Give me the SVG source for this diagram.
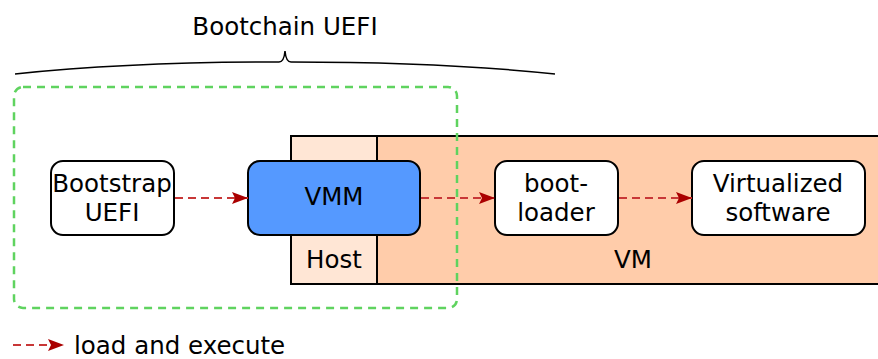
<svg xmlns="http://www.w3.org/2000/svg" width="878" height="359" viewBox="0 0 878 359">
  <defs>
    <marker id="arrow" markerWidth="17" markerHeight="13" refX="16" refY="6.5" orient="auto" markerUnits="userSpaceOnUse">
      <path d="M0,0.5 L16,6.5 L0,12.5 L3,6.5 Z" fill="#aa0000"/>
    </marker>
    <style>
      text { font-family: "DejaVu Sans", "Liberation Sans", sans-serif; font-size: 24.5px; fill: #000; text-anchor: middle; }
      .node { fill: #fff; stroke: #000; stroke-width: 2; }
      .flow { fill: none; stroke: #c83737; stroke-width: 2; stroke-dasharray: 8,5; }
    </style>
  </defs>

  <!-- title and brace -->
  <g id="title">
    <text x="285" y="35">Bootchain UEFI</text>
    <path d="M15,74 C110,64 200,62 279,62 Q284,62 285,51 Q286,62 291,62 C370,62 460,64 555,74" fill="none" stroke="#000" stroke-width="1.5"/>
  </g>

  <!-- host / vm background -->
  <g id="vm">
    <rect x="377" y="136" width="503" height="148" fill="#ffccaa" stroke="#000" stroke-width="2"/>
    <text x="633" y="268">VM</text>
  </g>
  <g id="host">
    <rect x="291" y="136" width="86" height="148" fill="#ffe6d5" stroke="#000" stroke-width="2"/>
    <text x="334" y="268">Host</text>
  </g>

  <!-- bootchain region -->
  <g id="bootchain">
    <rect x="14" y="87" width="443" height="221" rx="9" ry="9" fill="none" stroke="#5fd35f" stroke-width="2.5" stroke-dasharray="8,6"/>
  </g>

  <g id="bootstrap">
    <rect class="node" x="51" y="161" width="123" height="74" rx="12" ry="12"/>
    <text x="112" y="192">Bootstrap</text>
    <text x="112" y="221">UEFI</text>
  </g>

  <g id="vmm">
    <rect x="248" y="161" width="172" height="74" rx="12" ry="12" fill="#5599ff" stroke="#000" stroke-width="2"/>
    <text x="334" y="205">VMM</text>
  </g>

  <g id="bootloader">
    <rect class="node" x="495" y="161" width="123" height="74" rx="12" ry="12"/>
    <text x="556" y="192">boot-</text>
    <text x="556" y="221">loader</text>
  </g>

  <g id="software">
    <rect class="node" x="692" y="161" width="173" height="74" rx="12" ry="12"/>
    <text x="778" y="192">Virtualized</text>
    <text x="778" y="221">software</text>
  </g>

  <!-- load-and-execute connectors -->
  <g id="connectors">
    <line class="flow" x1="175" y1="198" x2="248" y2="198" marker-end="url(#arrow)"/>
    <line class="flow" x1="421" y1="198" x2="495" y2="198" marker-end="url(#arrow)"/>
    <line class="flow" x1="619" y1="198" x2="692" y2="198" marker-end="url(#arrow)"/>
  </g>

  <!-- legend -->
  <g id="legend">
    <line class="flow" x1="13" y1="345" x2="64" y2="345" marker-end="url(#arrow)"/>
    <text x="74" y="354" style="text-anchor:start">load and execute</text>
  </g>
</svg>
